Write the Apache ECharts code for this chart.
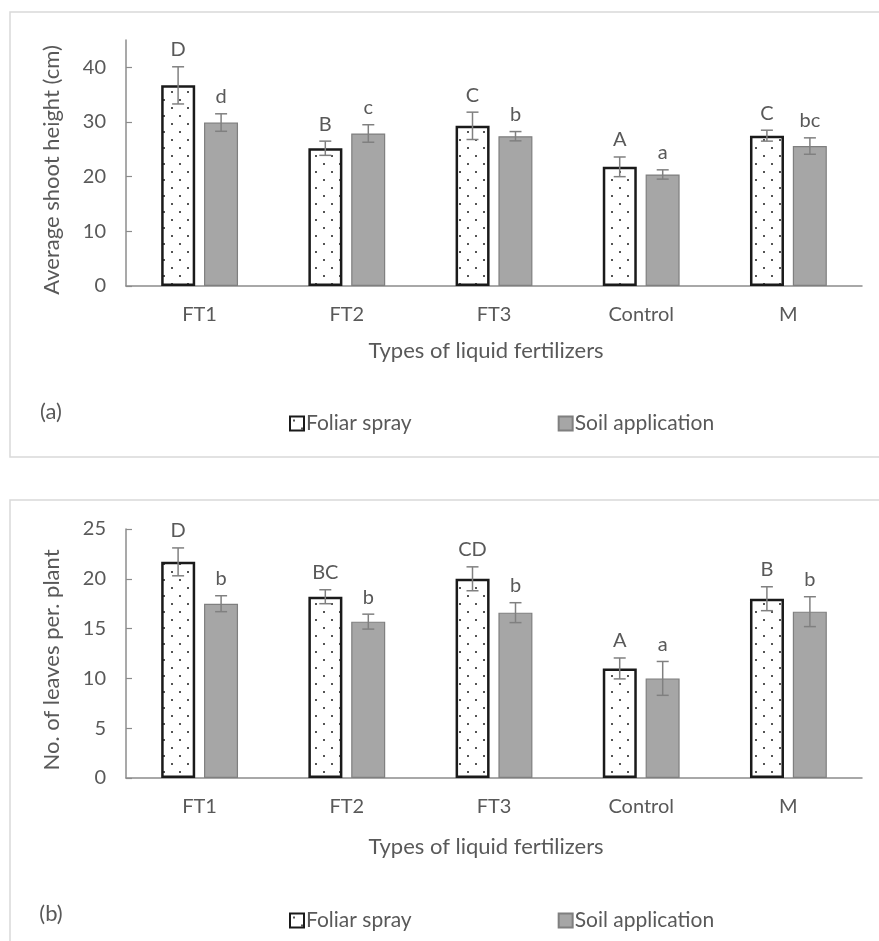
<!DOCTYPE html>
<html><head><meta charset="utf-8">
<script src="https://cdn.jsdelivr.net/npm/echarts@6/dist/echarts.min.js"></script>
<style>html,body{margin:0;padding:0;background:#fff;} #c{width:879px;height:941px;}</style>
</head><body><div id="c"></div>
<script>
// ---- data ----
const categories = ['FT1', 'FT2', 'FT3', 'Control', 'M'];
const seriesNames = ['Foliar spray', 'Soil application'];

// (a) average shoot height (cm)
const heightFoliar = [36.7, 25.2, 29.3, 21.8, 27.5];
const heightFoliarErr = [3.4, 1.3, 2.5, 1.8, 1.0];
const heightSoil = [29.9, 27.9, 27.4, 20.4, 25.6];
const heightSoilErr = [1.6, 1.6, 0.85, 0.85, 1.5];
const heightFoliarLetters = ['D', 'B', 'C', 'A', 'C'];
const heightSoilLetters = ['d', 'c', 'b', 'a', 'bc'];
const heightTicks = [0, 10, 20, 30, 40];

// (b) number of leaves per plant
const leavesFoliar = [21.7, 18.2, 20.0, 11.0, 18.0];
const leavesFoliarErr = [1.4, 0.7, 1.2, 1.05, 1.2];
const leavesSoil = [17.5, 15.7, 16.6, 10.0, 16.7];
const leavesSoilErr = [0.8, 0.75, 1.0, 1.7, 1.5];
const leavesFoliarLetters = ['D', 'BC', 'CD', 'A', 'B'];
const leavesSoilLetters = ['b', 'b', 'b', 'a', 'b'];
const leavesTicks = [0, 5, 10, 15, 20, 25];

// ---- styles ----
const FONT = 'Lato';
const TXT = '#595959';
const AX = '#8c8c8c';
const BAR_W = 34;
const OFFSET = 21.5;

function makeDots() {
  const c = document.createElement('canvas');
  c.width = 16; c.height = 16;
  const g = c.getContext('2d');
  g.fillStyle = '#ffffff'; g.fillRect(0, 0, 16, 16);
  g.fillStyle = '#555555';
  g.fillRect(3, 3, 2, 2);
  g.fillRect(11, 11, 2, 2);
  return c;
}
const dots = makeDots();

const foliarStyle = { color: { image: dots, repeat: 'repeat' }, borderColor: '#1a1a1a', borderWidth: 2.5 };
const soilStyle = { color: '#a6a6a6', borderColor: '#7f7f7f', borderWidth: 1.2 };

function errSeries(vals, errs, letters, off, gi) {
  return {
    type: 'custom', xAxisIndex: gi, yAxisIndex: gi, z: 5, silent: true,
    data: vals.map((v, i) => [i, v, errs[i]]),
    encode: { x: 0, y: 1 },
    renderItem: function (params, api) {
      const i = api.value(0), v = api.value(1), e = api.value(2);
      const t = api.coord([i, v + e]);
      const b = api.coord([i, v - e]);
      const x = t[0] + off;
      const st = { stroke: '#808080', lineWidth: 1.5 };
      return {
        type: 'group',
        children: [
          { type: 'line', shape: { x1: x, y1: t[1], x2: x, y2: b[1] }, style: st },
          { type: 'line', shape: { x1: x - 6, y1: t[1], x2: x + 6, y2: t[1] }, style: st },
          { type: 'line', shape: { x1: x - 6, y1: b[1], x2: x + 6, y2: b[1] }, style: st },
          { type: 'text', style: { text: letters[params.dataIndex], x: x, y: t[1] - 7, align: 'center', verticalAlign: 'bottom', fill: TXT, font: '20px ' + FONT } }
        ]
      };
    }
  };
}

function xAx(gi) {
  return {
    gridIndex: gi, type: 'category', data: categories,
    axisLine: { lineStyle: { color: AX, width: 1.5 } },
    axisTick: { inside: true, length: 5, lineStyle: { color: AX, width: 1.2 } },
    axisLabel: { color: TXT, fontSize: 20, fontFamily: FONT, margin: 19 }
  };
}
function yAx(gi, max, interval, ticks) {
  return {
    gridIndex: gi, type: 'value', min: 0, max: max, interval: interval,
    splitLine: { show: false },
    axisLine: { show: true, lineStyle: { color: AX, width: 1.5 } },
    axisTick: { show: true, inside: true, length: 6, customValues: ticks, lineStyle: { color: AX, width: 1.2 } },
    axisLabel: { color: TXT, fontSize: 20, fontFamily: FONT, margin: 20, customValues: ticks }
  };
}
function legendAt(top) {
  return {
    top: top, left: 284, itemWidth: 14, itemHeight: 14, itemGap: 146, icon: 'rect',
    textStyle: { color: TXT, fontSize: 21, fontFamily: FONT, padding: [0, 0, 0, -3] },
    data: seriesNames, selectedMode: false
  };
}
function txt(x, y, text, rot, size) {
  return { type: 'text', x: x, y: y, rotation: rot || 0,
    style: { text: text, fill: TXT, font: (size || 21) + 'px ' + FONT, align: 'center', verticalAlign: 'middle' } };
}

const chart = echarts.init(document.getElementById('c'));
chart.setOption({
  animation: false,
  backgroundColor: '#fff',
  grid: [
    { left: 126, right: 17, top: 40, bottom: 655 },
    { left: 126, right: 17, top: 529, bottom: 163 }
  ],
  xAxis: [xAx(0), xAx(1)],
  yAxis: [yAx(0, 45, 10, heightTicks), yAx(1, 25, 5, leavesTicks)],
  legend: [legendAt(408), legendAt(905)],
  graphic: [
    { type: 'rect', shape: { x: 10, y: 12, width: 900, height: 445 }, style: { fill: 'none', stroke: '#d9d9d9', lineWidth: 1.5 }, silent: true },
    { type: 'rect', shape: { x: 10, y: 500, width: 900, height: 480 }, style: { fill: 'none', stroke: '#d9d9d9', lineWidth: 1.5 }, silent: true },
    txt(52, 170, 'Average shoot height (cm)', Math.PI / 2, 22),
    txt(486, 351, 'Types of liquid fertilizers', 0, 22),
    txt(51, 412, '(a)', 0, 22),
    txt(52, 660, 'No. of leaves per. plant', Math.PI / 2, 22),
    txt(486, 847, 'Types of liquid fertilizers', 0, 22),
    txt(51, 914, '(b)', 0, 22)
  ],
  series: [
    { name: seriesNames[0], type: 'bar', xAxisIndex: 0, yAxisIndex: 0, data: heightFoliar, barWidth: BAR_W, barGap: '26%', itemStyle: foliarStyle },
    { name: seriesNames[1], type: 'bar', xAxisIndex: 0, yAxisIndex: 0, data: heightSoil, barWidth: BAR_W, barGap: '26%', itemStyle: soilStyle },
    { name: seriesNames[0], type: 'bar', xAxisIndex: 1, yAxisIndex: 1, data: leavesFoliar, barWidth: BAR_W, barGap: '26%', itemStyle: foliarStyle },
    { name: seriesNames[1], type: 'bar', xAxisIndex: 1, yAxisIndex: 1, data: leavesSoil, barWidth: BAR_W, barGap: '26%', itemStyle: soilStyle },
    errSeries(heightFoliar, heightFoliarErr, heightFoliarLetters, -OFFSET, 0),
    errSeries(heightSoil, heightSoilErr, heightSoilLetters, OFFSET, 0),
    errSeries(leavesFoliar, leavesFoliarErr, leavesFoliarLetters, -OFFSET, 1),
    errSeries(leavesSoil, leavesSoilErr, leavesSoilLetters, OFFSET, 1)
  ]
});
</script></body></html>
